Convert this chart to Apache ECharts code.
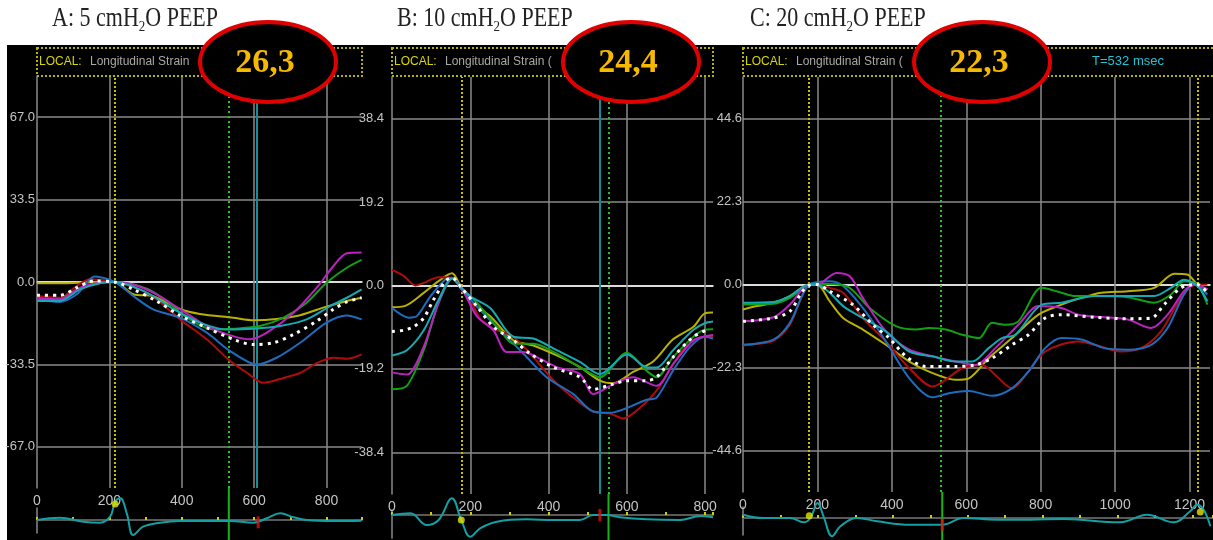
<!DOCTYPE html>
<html>
<head>
<meta charset="UTF-8">
<title>Longitudinal Strain - PEEP</title>
<script src="https://cdn.jsdelivr.net/npm/echarts@6/dist/echarts.min.js"></script>
<style>
body{margin:0;padding:0;background:#fff;}
#chart{width:1213px;height:540px;}
</style>
</head>
<body>
<div id="chart"></div>
<script>
// ---- data: [time ms, strain %] ----
var A_yellow = [[0,-0.5],[82,-0.5],[174,0],[215,0],[266,-5],[321,-5.8],[395,-11],[450,-13],[542,-14.5],[598,-15.5],[662,-15],[727,-13.5],[800,-10],[856,-7.7],[897,-6.4]];
var A_red = [[0,-5.7],[63,-6.4],[110,-1.6],[147,1.1],[215,0],[284,-3],[330,-7],[395,-15.2],[469,-23.3],[533,-32],[580,-36.9],[626,-41],[681,-39],[727,-37],[773,-33],[819,-30.8],[856,-31.2],[897,-29.4]];
var A_blue = [[0,-7],[63,-8.1],[110,-5],[160,2.2],[215,0],[266,-5.7],[321,-11.1],[395,-14.5],[469,-20.6],[533,-28],[607,-33.5],[662,-30.8],[727,-24.7],[800,-16.5],[856,-13.6],[897,-15.2]];
var A_green = [[0,-7.3],[63,-7],[110,-3],[174,-0.3],[215,0],[303,-2.7],[358,-7.7],[414,-14.5],[487,-19.3],[542,-19],[616,-17.9],[681,-14.5],[745,-8.4],[800,-0.3],[856,5.8],[897,9]];
var A_magenta = [[0,-6.4],[63,-7],[119,-2.3],[174,-0.3],[215,0],[266,-1],[330,-5],[395,-11],[469,-17.9],[542,-22],[589,-23.3],[635,-20.6],[709,-12.5],[773,-2.3],[819,6.5],[856,11.7],[897,12]];
var A_cyan = [[0,-7.7],[63,-7.7],[119,-3],[174,-0.5],[215,0],[303,-4.3],[377,-11],[450,-16.5],[524,-19.3],[598,-19],[672,-17.9],[745,-15.2],[810,-9.8],[856,-6.4],[897,-3]];
var A_white = [[0,-5.4],[63,-5.4],[110,-2.3],[156,0.4],[215,0],[266,-3],[330,-7.7],[395,-13.6],[469,-18.6],[542,-23.3],[598,-25.4],[654,-24.7],[709,-21.3],[773,-15.9],[819,-11.1],[856,-8.1],[897,-6.4]];

var B_yellow = [[0,-5],[34,-4.7],[81,-1.7],[119,1],[153,2.8],[177,-0.5],[200,-3.6],[251,-7.1],[310,-12.6],[361,-13.8],[421,-16.1],[480,-18.8],[531,-21.9],[565,-22.5],[616,-19.9],[667,-17.5],[718,-12.4],[770,-9.5],[799,-6.4],[820,-6.2]];
var B_red = [[0,3.6],[30,2.2],[60,0],[81,0.6],[119,1.9],[153,1.8],[177,-0.9],[200,-3.3],[225,-7.6],[259,-9.9],[310,-11.8],[361,-16.5],[412,-21.8],[463,-25.8],[514,-29],[557,-29.5],[591,-30.6],[633,-28.2],[676,-24.2],[718,-18.1],[753,-13.8],[799,-11.8],[820,-11.8]];
var B_blue = [[0,-5.2],[43,-7.4],[64,-7],[98,-2.5],[136,1.4],[153,1.8],[177,-0.9],[225,-5.6],[276,-10.3],[336,-15.7],[395,-21.1],[463,-25],[514,-29],[557,-29.3],[600,-28.2],[650,-26.3],[676,-25.8],[718,-19.6],[761,-14.2],[799,-11.8],[820,-12.2]];
var B_green = [[0,-23.9],[38,-23.1],[81,-14.9],[119,-4],[157,1.8],[177,-0.5],[217,-4],[276,-10.3],[310,-13.4],[361,-13.4],[421,-15.7],[480,-18.8],[531,-21.1],[600,-15.5],[650,-19.6],[676,-21.1],[718,-16.5],[770,-11.8],[799,-10.2],[820,-10.1]];
var B_magenta = [[0,-20],[38,-20.5],[81,-14.1],[119,-4],[153,1.6],[177,-0.5],[217,-7.1],[259,-10.3],[293,-15.3],[336,-15.3],[370,-16.5],[421,-18.8],[480,-20.4],[514,-25],[565,-22.7],[616,-21.1],[676,-23.1],[718,-18.1],[770,-12.6],[799,-11.7],[820,-11.4]];
var B_cyan = [[0,-16.1],[38,-14.9],[81,-10.3],[119,-3.3],[153,1.6],[177,-0.5],[200,-2.5],[251,-5.2],[310,-11.8],[361,-12.2],[421,-14.9],[480,-17.6],[531,-20.4],[600,-15.9],[650,-18.8],[676,-18.9],[718,-14.9],[770,-10.2],[799,-8.7],[820,-8.3]];
var B_white = [[0,-10.6],[30,-10.3],[55,-9.5],[81,-7.5],[106,-3.3],[136,1],[153,1.8],[177,-0.5],[217,-4.8],[259,-9.5],[310,-12.6],[353,-15.7],[412,-18.8],[480,-21.1],[514,-23.9],[565,-22.7],[600,-21.9],[650,-21.9],[676,-21.1],[718,-16.5],[770,-11.8],[808,-10.1]];

var C_yellow = [[0,-6.7],[37,-5.8],[82,-4.9],[126,-3.1],[178,0],[199,0],[233,-4.5],[269,-9],[322,-12.1],[384,-16.2],[447,-20.7],[500,-23.4],[571,-25.6],[607,-25.2],[660,-19.8],[723,-14.4],[794,-8.1],[856,-5.4],[909,-3.6],[963,-2.2],[1034,-1.8],[1105,-0.9],[1159,2.9],[1194,2.7],[1221,0],[1248,-1.3]];
var C_red = [[0,-16.4],[37,-16],[82,-15.1],[126,-10.8],[178,0],[199,0.2],[233,-0.9],[269,-2.2],[322,-9],[384,-15.3],[447,-22.5],[509,-27.4],[589,-22.5],[643,-21.6],[678,-24.3],[723,-27.9],[767,-23.4],[812,-18],[901,-15.3],[945,-16.2],[1016,-18],[1070,-17.1],[1123,-12.6],[1177,-3.6],[1212,-0.2],[1248,0]];
var C_blue = [[0,-16.2],[82,-14.8],[126,-10.3],[178,0],[233,0.9],[269,-0.4],[322,-6.3],[384,-15.3],[447,-25.2],[509,-30.3],[553,-29.2],[607,-28.6],[669,-29.9],[723,-27.9],[767,-23.4],[812,-17.1],[856,-14.4],[909,-14.8],[972,-17.1],[1034,-17.5],[1097,-16.2],[1141,-11.7],[1185,-2.7],[1212,0],[1248,-2.7]];
var C_green = [[0,-5.4],[82,-5.2],[126,-3.6],[178,0],[199,0.2],[277,-0.4],[340,-6.3],[411,-11.2],[465,-12.1],[500,-11.7],[545,-12.1],[589,-13.5],[634,-14.4],[669,-10.3],[705,-10.8],[740,-9.9],[803,-0.9],[856,-2.2],[892,-3.1],[945,-3.1],[1034,-3.4],[1105,-4.9],[1150,-2.7],[1185,0.9],[1221,0],[1248,-5.4]];
var C_magenta = [[0,-9.9],[82,-8.8],[126,-5.4],[178,0],[199,0],[251,3.1],[287,2.2],[322,-3.6],[384,-12.6],[447,-17.5],[509,-19.3],[571,-20.7],[625,-21.6],[678,-17.1],[740,-10.8],[794,-5.8],[856,-6.3],[901,-8.1],[972,-8.8],[1034,-9.4],[1097,-11.7],[1141,-8.1],[1185,-1.8],[1212,0],[1248,-1.3]];
var C_cyan = [[0,-4.9],[82,-4.7],[126,-3.1],[178,0],[199,0],[233,-2.2],[269,-5.8],[322,-9],[384,-12.6],[447,-18],[509,-19.3],[571,-20.7],[616,-20.7],[660,-17.1],[696,-14.4],[732,-13.5],[803,-5.4],[856,-4.9],[945,-3.1],[1034,-3.1],[1105,-3.1],[1150,-0.9],[1185,1.3],[1221,-0.4],[1248,-4.5]];
var C_white = [[0,-9.9],[82,-9],[126,-7.2],[157,-2.2],[178,-0.2],[199,0],[233,-1.8],[295,-5.4],[349,-10.8],[393,-14.4],[438,-19.3],[491,-22],[571,-22],[625,-21.6],[669,-19.8],[723,-16.2],[767,-13.5],[812,-9],[856,-8.1],[945,-8.8],[1034,-9.2],[1097,-9],[1132,-5.4],[1177,-0.9],[1221,0],[1248,-2.2]];

// ECG traces (arbitrary units)
var A_ecg = [[0,0],[63,2.3],[128,-1.7],[174,-2.7],[202,3.3],[216,18.3],[230,21.7],[248,6.7],[266,-15],[293,-6.7],[340,-2.7],[395,-1],[533,-1],[598,-2.7],[635,1.7],[672,6.7],[709,2.7],[745,0],[819,-1],[897,-0.7]];
var B_ecg = [[0,0],[47,1.7],[89,-10],[119,-5],[153,16.7],[177,-5],[200,-21.7],[225,-13.3],[268,-6.7],[344,-4.3],[412,-5],[480,-5],[514,0],[548,0],[582,-2.3],[650,-4.3],[736,-5],[787,-1],[820,-2.3]];
var C_ecg = [[0,3.3],[55,0],[126,0],[162,-4.3],[180,0],[199,15],[215,1.7],[238,-18.3],[260,-8.3],[304,0],[358,-3.3],[447,-6.7],[532,-6.7],[589,0],[678,-1.7],[767,-1.7],[856,-1],[1007,-4.3],[1079,3.3],[1150,-4.3],[1194,6.7],[1212,13.3],[1230,8.3],[1248,-8.3]];

// markers
var A_yellowDots = [[216,16]], B_yellowDots = [[177,-5]], C_yellowDots = [[177,2.3],[1221,6]];
var A_redBar = [[611,-2.3]], B_redBar = [[531,0]], C_redBar = [[532,-6.7]];
var A_tTimes = [215], B_tTimes = [177], C_tTimes = [178,1221];   // yellow dotted
var A_avc = 530, B_avc = 553, C_avc = 532;                       // green
var A_cursor = [607], B_cursor = [531], C_cursor = [];          // teal cursor

var titleParts = [['A: 5 cmH', 'O PEEP'], ['B: 10 cmH', 'O PEEP'], ['C: 20 cmH', 'O PEEP']];
var peakValues = ['26,3', '24,4', '22,3'];
var yStepsA = [67, 33.5, 0, -33.5, -67];
var yStepsB = [38.4, 19.2, 0, -19.2, -38.4];
var yStepsC = [44.6, 22.3, 0, -22.3, -44.6];

var GRID = '#8a8a8a';
var LBL = '#c4c4c4';
var colors = ['#b9b000', '#b00c0c', '#1d6cc0', '#12a012', '#bb22c0', '#14aab4'];

var panels = [
  {left:37, top:76, width:325, height:412, xmax:898, ylim:83.75, ystep:33.5, hl:yStepsA, lm:2,
   ecgTop:508, ecgH:25, ecgMin:-13, ecgMax:12, gTop:32, gBot:-20,
   curves:[A_yellow,A_red,A_blue,A_green,A_magenta,A_cyan], avg:A_white, ecg:A_ecg,
   ydots:A_yellowDots, rbar:A_redBar, tt:A_tTimes, avc:A_avc, cur:A_cursor},
  {left:392, top:77, width:321, height:417, xmax:820, ylim:48, ystep:19.2, hl:yStepsB, lm:8,
   ecgTop:510, ecgH:28, ecgMin:-23, ecgMax:5, gTop:21, gBot:-25,
   curves:[B_yellow,B_red,B_blue,B_green,B_magenta,B_cyan], avg:B_white, ecg:B_ecg,
   ydots:B_yellowDots, rbar:B_redBar, tt:B_tTimes, avc:B_avc, cur:B_cursor},
  {left:743, top:77, width:470, height:415, xmax:1255, ylim:55.75, ystep:22.3, hl:yStepsC, lm:1,
   ecgTop:507, ecgH:28, ecgMin:-17, ecgMax:11, gTop:26, gBot:-22,
   curves:[C_yellow,C_red,C_blue,C_green,C_magenta,C_cyan], avg:C_white, ecg:C_ecg,
   ydots:C_yellowDots, rbar:C_redBar, tt:C_tTimes, avc:C_avc, cur:C_cursor}
];

var grids = [], xAxes = [], yAxes = [], series = [];

panels.forEach(function (p, i) {
  var g = 2 * i, e = 2 * i + 1;
  grids.push({left:p.left, top:p.top, width:p.width, height:p.height});
  grids.push({left:p.left, top:p.ecgTop, width:p.width, height:p.ecgH});

  xAxes.push({gridIndex:g, type:'value', min:0, max:p.xmax, interval:200,
    axisLine:{lineStyle:{color:GRID, width:2}}, axisTick:{show:false}, splitLine:{show:false},
    axisLabel:{color:LBL, fontSize:14, fontFamily:'Liberation Sans', margin:6,
      formatter:function (v) { return v % 200 === 0 ? String(v) : ''; }}});
  yAxes.push({gridIndex:g, type:'value', min:-p.ylim, max:p.ylim, interval:p.ystep / 2,
    axisLine:{show:true, lineStyle:{color:GRID, width:1.5}}, axisTick:{show:false}, splitLine:{show:false},
    axisLabel:{color:LBL, fontSize:13, fontFamily:'Liberation Sans', margin:p.lm,
      formatter:function (v) { var k = v / p.ystep; return Math.abs(k - Math.round(k)) < 1e-6 ? v.toFixed(1) : ''; }}});

  xAxes.push({gridIndex:e, type:'value', min:0, max:p.xmax, interval:100,
    axisLine:{lineStyle:{color:'#5a5a5a', width:2}},
    axisTick:{show:true, inside:true, length:3, lineStyle:{color:'#d0d000', width:2}},
    axisLabel:{show:false}, splitLine:{show:false}});
  yAxes.push({gridIndex:e, type:'value', min:p.ecgMin, max:p.ecgMax,
    axisLine:{show:true, lineStyle:{color:GRID, width:1.5}}, axisTick:{show:false},
    axisLabel:{show:false}, splitLine:{show:false}});

  // grid lines + event markers
  var ml = [];
  p.hl.forEach(function (v) {
    ml.push({yAxis:v, lineStyle:{color:v === 0 ? '#dcdcdc' : GRID, width:v === 0 ? 2 : 1.5, type:'solid'}});
  });
  for (var t = 200; t < p.xmax; t += 200) {
    ml.push({xAxis:t, lineStyle:{color:GRID, width:1.5, type:'solid'}});
  }
  p.tt.forEach(function (t) { ml.push({xAxis:t, lineStyle:{color:'#c8c000', width:2, type:[2, 2]}}); });
  ml.push({xAxis:p.avc, lineStyle:{color:'#1ec81e', width:2, type:[2, 3]}});
  p.cur.forEach(function (t) { ml.push({xAxis:t, lineStyle:{color:'#168c94', width:2, type:'solid'}}); });

  series.push({type:'line', xAxisIndex:g, yAxisIndex:g, data:[], silent:true, z:1,
    markLine:{silent:true, z:1, symbol:['none', 'none'], label:{show:false}, animation:false, data:ml}});

  p.curves.forEach(function (d, k) {
    series.push({type:'line', xAxisIndex:g, yAxisIndex:g, data:d, smooth:0.3, showSymbol:false,
      silent:true, animation:false, z:3, lineStyle:{color:colors[k], width:2}});
  });
  series.push({type:'line', xAxisIndex:g, yAxisIndex:g, data:p.avg, smooth:0.3, showSymbol:false,
    silent:true, animation:false, z:4, lineStyle:{color:'#ffffff', width:3, type:[3, 5]}});

  // green event line through the ECG strip
  series.push({type:'line', xAxisIndex:e, yAxisIndex:e, data:[[p.avc, p.gTop], [p.avc, p.gBot]],
    showSymbol:false, silent:true, animation:false, clip:false, z:2,
    lineStyle:{color:'#17b317', width:2}});
  series.push({type:'line', xAxisIndex:e, yAxisIndex:e, data:p.ecg, smooth:0.4, showSymbol:false,
    silent:true, animation:false, clip:false, z:3, lineStyle:{color:'#13a0a4', width:2}});
  series.push({type:'scatter', xAxisIndex:e, yAxisIndex:e, data:p.ydots, symbol:'circle', symbolSize:7,
    clip:false, silent:true, animation:false, z:5, itemStyle:{color:'#e6e600'}});
  series.push({type:'scatter', xAxisIndex:e, yAxisIndex:e, data:p.rbar, symbol:'rect', symbolSize:[3, 12],
    clip:false, silent:true, animation:false, z:5, itemStyle:{color:'#e01212'}});
});

// decorations: title band, LOCAL boxes, circled peak values
var graphic = [
  {type:'rect', shape:{x:0, y:0, width:1213, height:45}, style:{fill:'#fff'}, z:0},
  {type:'rect', shape:{x:0, y:0, width:7, height:540}, style:{fill:'#fff'}, z:0}
];
var titleX = [52, 397, 750];
var ellX = [268, 631, 982];
var boxW = [325, 321, 475];
titleParts.forEach(function (tp, i) {
  graphic.push({type:'text', x:titleX[i], y:6, scaleY:1.2, z:10,
    style:{text:'{m|' + tp[0] + '}{s|2}{m|' + tp[1] + '}', fill:'#222',
      verticalAlign:'top', textVerticalAlign:'top',
      rich:{m:{fontFamily:'Liberation Serif', fontSize:22, fill:'#222', lineHeight:24, verticalAlign:'top'},
            s:{fontFamily:'Liberation Serif', fontSize:13, fill:'#222', lineHeight:10, verticalAlign:'bottom'}}}});
  var p = panels[i];
  graphic.push({type:'rect', z:10, shape:{x:p.left, y:48, width:boxW[i], height:28},
    style:{fill:null, stroke:'#b4b400', lineWidth:2, lineDash:[2, 2]}});
  graphic.push({type:'text', x:p.left + 2, y:62, z:10,
    style:{text:'LOCAL:', fill:'#d6d600', fontSize:12, fontFamily:'Liberation Sans',
      verticalAlign:'middle', textVerticalAlign:'middle'}});
  graphic.push({type:'text', x:p.left + 53, y:62, z:10,
    style:{text:i === 0 ? 'Longitudinal Strain' : 'Longitudinal Strain (', fill:'#a8a8a8', fontSize:12,
      fontFamily:'Liberation Sans', verticalAlign:'middle', textVerticalAlign:'middle'}});
  graphic.push({type:'ellipse', z:20, shape:{cx:ellX[i], cy:62, rx:68, ry:40},
    style:{fill:'#000', stroke:'#e00000', lineWidth:4}});
  graphic.push({type:'text', x:ellX[i] - 3, y:63, z:21,
    style:{text:peakValues[i], fill:'#f6b800', fontSize:34, fontWeight:'bold', fontFamily:'Liberation Serif',
      align:'center', textAlign:'center', verticalAlign:'middle', textVerticalAlign:'middle'}});
});
graphic.push({type:'text', x:1128, y:61, z:10,
  style:{text:'T=532 msec', fill:'#22c4d4', fontSize:13, fontFamily:'Liberation Sans',
    align:'center', textAlign:'center', verticalAlign:'middle', textVerticalAlign:'middle'}});

var chart = echarts.init(document.getElementById('chart'));
chart.setOption({
  backgroundColor:'#000',
  animation:false,
  grid:grids, xAxis:xAxes, yAxis:yAxes, series:series, graphic:graphic
});
</script>
</body>
</html>
